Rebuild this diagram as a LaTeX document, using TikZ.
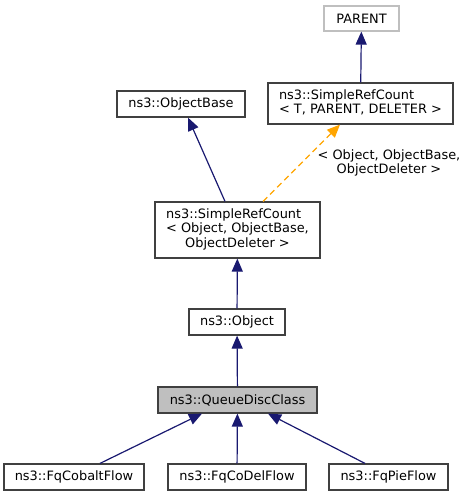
\documentclass[tikz,border=0pt]{standalone}
\usepackage{fontspec}
\setmainfont{DejaVu Sans}
\usetikzlibrary{arrows.meta}
\definecolor{edgeblue}{HTML}{191970}
\definecolor{tmplorange}{HTML}{FFA500}
\definecolor{boxgray}{HTML}{404040}
\definecolor{extgray}{HTML}{BFBFBF}
\begin{document}
\begin{tikzpicture}
  [x=1pt,y=-1pt,
   every node/.append style=
     {font=\fontsize{12.9}{14.8}\selectfont,inner sep=0pt,minimum height=26pt},
   cls/.style=
     {draw=boxgray,line width=1.2pt,fill=white},
   cur/.style=
     {cls,fill=extgray},
   ext/.style=
     {draw=extgray,line width=1.2pt,fill=white},
   inherit/.style=
     {draw=edgeblue,line width=1.2pt,-{Triangle[length=13pt,width=11pt]}},
   tmpl/.style=
     {draw=tmplorange,line width=1.2pt,dashed,dash pattern=on 6pt off 4pt,
      -{Triangle[length=13pt,width=11pt]}}
  ]
  \useasboundingbox (0,0) rectangle (467,496);
  \node[ext,minimum width=75pt,minimum height=25pt] (parent) at (361.5,18.5) {PARENT};
  \node[cls,minimum width=185pt,minimum height=41pt] (srct) at (360.5,103.5)
    {\begin{tabular}{@{}l@{}}ns3::SimpleRefCount\\< T, PARENT, DELETER >\end{tabular}};
  \node[cls,minimum width=128pt] (objbase) at (181,104) {ns3::ObjectBase};
  \node[cls,minimum width=165pt,minimum height=56pt] (srco) at (237.5,230)
    {\begin{tabular}{@{}l@{}}ns3::SimpleRefCount\\< Object, ObjectBase,\\
     \multicolumn{1}{@{}c@{}}{ObjectDeleter >}\end{tabular}};
  \node[cls,minimum width=96pt] (object) at (237,322) {ns3::Object};
  \node[cur,minimum width=159pt] (qdc) at (237.5,400) {ns3::QueueDiscClass};
  \node[cls,minimum width=140pt] (cobalt) at (74,477) {ns3::FqCobaltFlow};
  \node[cls,minimum width=138pt] (codel) at (237,477) {ns3::FqCoDelFlow};
  \node[cls,minimum width=119pt] (pie) at (388.5,477) {ns3::FqPieFlow};
  \node[align=center,minimum height=0pt] (tmpllabel) at (389,163)
    {< Object, ObjectBase,\\ObjectDeleter >};
  \draw[inherit] (srct) -- (parent);
  \draw[inherit] ([xshift=-12.5pt]srco.north) -- ([xshift=7pt]objbase.south);
  \draw[tmpl] ([xshift=25.5pt]srco.north) -- ([xshift=-20.5pt]srct.south);
  \draw[inherit] (object) -- (srco);
  \draw[inherit] (qdc) -- (object);
  \draw[inherit] ([xshift=26pt]cobalt.north) -- ([xshift=-35.5pt]qdc.south);
  \draw[inherit] (codel) -- (qdc);
  \draw[inherit] ([xshift=-23.5pt]pie.north) -- ([xshift=30.5pt]qdc.south);
\end{tikzpicture}
\end{document}
